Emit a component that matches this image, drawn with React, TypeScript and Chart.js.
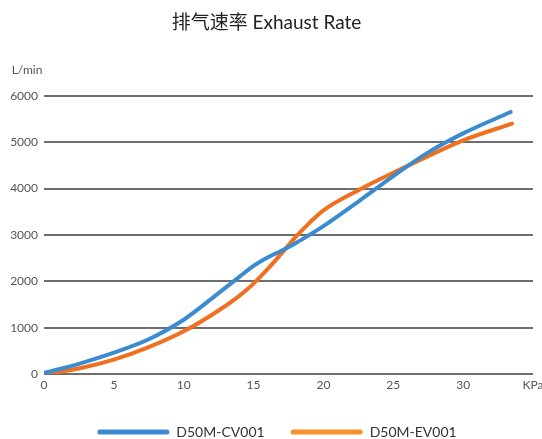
import React, { useEffect, useRef } from "react";
import { Chart, registerables } from "chart.js";

Chart.register(...registerables);

const titleText = "排气速率 Exhaust Rate";
const yUnit = "L/min";
const xUnit = "KPa";
const yTicks = [0, 1000, 2000, 3000, 4000, 5000, 6000];
const xTickStep = 5;

const seriesNames = ["D50M-CV001", "D50M-EV001"];
const cvX = [0, 2.5, 5, 7.5, 10, 12.5, 14, 15, 16, 17, 18, 19, 20, 22.5, 25, 27.5, 30, 33.4];
const cvY = [20, 220, 460, 750, 1170, 1745, 2100, 2330, 2510, 2660, 2820, 3000, 3190, 3720, 4270, 4780, 5190, 5650];
const evX = [0, 2.5, 5, 7.5, 10, 12.5, 14, 15, 16, 17, 18, 19, 20, 22.5, 25, 27.5, 30, 33.5];
const evY = [0, 120, 310, 580, 920, 1370, 1690, 1950, 2260, 2600, 2950, 3260, 3530, 3965, 4340, 4700, 5040, 5400];

const lineColors = ["#3a8bd0", "#f0701f"];
const legendColors = ["#3a8bd0", "#f5932a"];

const FONT = 'Lato, "Noto Sans CJK SC", sans-serif';

export default function App() {
  const ref = useRef<HTMLCanvasElement | null>(null);
  useEffect(() => {
    if (!ref.current) return;
    const extrasPlugin = {
      id: "extras",
      afterDraw(chart: any) {
        const { ctx } = chart;
        const y = chart.scales.y;
        ctx.save();
        ctx.font = `12px ${FONT}`;
        ctx.fillStyle = "#555";
        ctx.textAlign = "center";
        ctx.textBaseline = "middle";
        ctx.fillText(yUnit, 27, y.getPixelForValue(6000) - 26);

        // legend
        const lineW = 72;
        const gapText = 7;
        const gapItem = 26;
        ctx.font = `14px ${FONT}`;
        const widths = seriesNames.map((n) => ctx.measureText(n).width);
        const total = widths.reduce((a, w) => a + lineW + gapText + w, 0) + gapItem * (seriesNames.length - 1);
        let x = chart.width / 2 + 6 - total / 2;
        const ly = chart.height - 7;
        seriesNames.forEach((n, i) => {
          ctx.strokeStyle = legendColors[i];
          ctx.lineWidth = 5;
          ctx.lineCap = "round";
          ctx.beginPath();
          ctx.moveTo(x + 2.5, ly);
          ctx.lineTo(x + lineW - 2.5, ly);
          ctx.stroke();
          x += lineW + gapText;
          ctx.fillStyle = "#333";
          ctx.textAlign = "left";
          ctx.fillText(n, x, ly);
          x += widths[i] + gapItem;
        });
        ctx.restore();
      },
    };
    const chart = new Chart(ref.current, {
      type: "line",
      data: {
        datasets: [
          {
            label: seriesNames[0],
            data: cvX.map((x, i) => ({ x, y: cvY[i] })),
            borderColor: lineColors[0],
            backgroundColor: legendColors[0],
            borderWidth: 4,
            pointRadius: 0,
            cubicInterpolationMode: "monotone",
            borderCapStyle: "round",
          },
          {
            label: seriesNames[1],
            data: evX.map((x, i) => ({ x, y: evY[i] })),
            borderColor: lineColors[1],
            backgroundColor: legendColors[1],
            borderWidth: 4,
            pointRadius: 0,
            cubicInterpolationMode: "monotone",
            borderCapStyle: "round",
          },
        ],
      },
      options: {
        animation: false,
        responsive: true,
        maintainAspectRatio: false,
        layout: { padding: { top: 0, right: 9, bottom: 38, left: 0 } },
        plugins: {
          title: {
            display: true,
            text: titleText,
            color: "#222",
            font: { family: FONT, size: 19, weight: "normal" },
            padding: { top: 11, bottom: 62 },
          },
          legend: { display: false },
          tooltip: { enabled: false },
        },
        scales: {
          x: {
            type: "linear",
            min: 0,
            max: 35,
            ticks: {
              stepSize: xTickStep,
              color: "#555",
              font: { family: FONT, size: 12 },
              padding: 4,
              maxRotation: 0,
              callback: (v: any) => (v === 35 ? xUnit : String(v)),
            },
            grid: { display: false, drawTicks: false },
            border: { display: false },
            afterFit: (s: any) => {
              s.paddingRight = 0;
              s.paddingLeft = 0;
              s.height = 27;
            },
          },
          y: {
            min: 0,
            max: 6000,
            afterBuildTicks: (s: any) => {
              s.ticks = yTicks.map((v) => ({ value: v }));
            },
            ticks: {
              color: "#555",
              font: { family: FONT, size: 12 },
              padding: 6,
              callback: (v: any) => String(v),
            },
            grid: { color: "#6e6e6e", lineWidth: 2, drawTicks: false },
            border: { display: false },
            afterFit: (s: any) => {
              s.width = 44;
            },
          },
        },
      },
      plugins: [extrasPlugin],
    });
    return () => chart.destroy();
  }, []);
  return (
    <div style={{ position: "fixed", left: 0, top: 0, width: 542, height: 439, background: "#fff" }}>
      <canvas ref={ref} />
    </div>
  );
}
